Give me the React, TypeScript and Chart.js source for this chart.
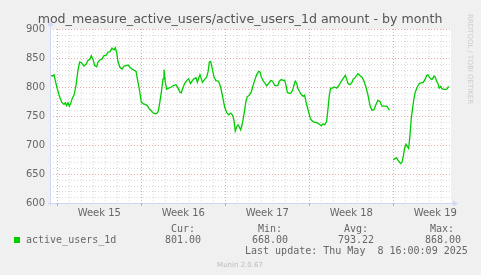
import React, { useEffect, useRef } from "react";
import { Chart, registerables } from "chart.js";

Chart.register(...registerables);

const TITLE = "mod_measure_active_users/active_users_1d amount - by month";
const SERIES_LABEL = "active_users_1d";
const WEEK_LABELS = ["Week 15", "Week 16", "Week 17", "Week 18", "Week 19"];
const WEEK_STARTS = [0, 7, 14, 21, 28];
const Y_MIN = 600;
const Y_MAX = 900;
const Y_MINOR = 10;
const Y_MAJOR = 50;
const X_MIN = -0.61;
const X_MAX = 32.81;
const STAT_HEADERS = ["Cur:", "Min:", "Avg:", "Max:"];
const STAT_VALUES = ["801.00", "668.00", "793.22", "868.00"];
const LAST_UPDATE = "Last update: Thu May  8 16:00:09 2025";
const FOOTER = "Munin 2.0.67";
const WATERMARK = "RRDTOOL / TOBI OETIKER";

// days since start of week 15
const DAYS = [
  -0.56, -0.39, -0.28, -0.17, 0, 0.19, 0.39, 0.56, 0.67, 0.78,
  0.89, 1.0, 1.11, 1.22, 1.39, 1.56, 1.72, 1.86, 2.0, 2.22,
  2.42, 2.56, 2.72, 2.83, 2.97, 3.11, 3.28, 3.39, 3.56, 3.72,
  3.89, 4.08, 4.22, 4.39, 4.56, 4.72, 4.83, 4.94, 5.06, 5.22,
  5.39, 5.56, 5.72, 5.89, 6.06, 6.22, 6.39, 6.56, 6.67, 6.83,
  7.0, 7.17, 7.33, 7.5, 7.61, 7.78, 7.94, 8.11, 8.28, 8.39,
  8.5, 8.67, 8.81, 8.89, 9.0, 9.11, 9.28, 9.5, 9.72, 9.89,
  10.06, 10.22, 10.33, 10.44, 10.61, 10.78, 10.94, 11.11, 11.22, 11.39,
  11.56, 11.67, 11.78, 11.89, 12.0, 12.11, 12.28, 12.44, 12.56, 12.67,
  12.78, 12.89, 13.06, 13.22, 13.44, 13.61, 13.78, 13.94, 14.11, 14.28,
  14.44, 14.61, 14.72, 14.83, 14.94, 15.06, 15.17, 15.28, 15.39, 15.5,
  15.61, 15.72, 15.83, 16.0, 16.17, 16.28, 16.44, 16.61, 16.78, 16.89,
  17.0, 17.17, 17.33, 17.44, 17.61, 17.78, 17.94, 18.11, 18.28, 18.39,
  18.5, 18.67, 18.83, 18.94, 19.06, 19.17, 19.33, 19.44, 19.61, 19.72,
  19.83, 19.94, 20.06, 20.22, 20.33, 20.5, 20.61, 20.72, 20.83, 20.94,
  21.06, 21.17, 21.33, 21.5, 21.67, 21.78, 21.89, 22.0, 22.11, 22.28,
  22.44, 22.56, 22.67, 22.78, 22.94, 23.11, 23.28, 23.44, 23.56, 23.67,
  23.83, 24.0, 24.11, 24.22, 24.39, 24.56, 24.67, 24.78, 24.94, 25.06,
  25.22, 25.39, 25.56, 25.72, 25.89, 26.06, 26.22, 26.39, 26.56, 26.72,
  26.89, 27.06, 27.22, 27.39, 27.5, 27.67,
  27.83,
  28.0, 28.17, 28.28, 28.39, 28.5, 28.61, 28.72, 28.83, 28.94, 29.06,
  29.17, 29.28, 29.39, 29.5, 29.61, 29.72, 29.83, 30.0, 30.17, 30.33,
  30.5, 30.67, 30.78, 30.89, 31.0, 31.17, 31.28, 31.39, 31.5, 31.61,
  31.72, 31.83, 31.94, 32.06, 32.22, 32.39, 32.5, 32.61,
];

const ACTIVE_USERS: (number | null)[] = [
  820, 819, 821, 811, 797, 783, 773, 770, 773, 768,
  773, 767, 771, 779, 786, 803, 829, 843, 842, 836,
  840, 846, 848, 854, 848, 837, 835, 843, 847, 848,
  854, 855, 860, 861, 867, 864, 868, 860, 843, 834,
  831, 836, 837, 838, 834, 831, 829, 827, 814, 797,
  774, 771, 770, 768, 764, 760, 756, 754, 754, 757,
  768, 791, 814, 830, 808, 796, 798, 800, 803, 804,
  798, 791, 790, 797, 806, 811, 814, 806, 810, 814,
  816, 808, 815, 821, 814, 808, 813, 817, 826, 843,
  844, 834, 817, 811, 810, 800, 783, 766, 756, 752,
  755, 751, 743, 724, 731, 735, 731, 726, 734, 746,
  760, 775, 783, 786, 792, 800, 811, 821, 827, 826,
  817, 810, 806, 802, 806, 811, 810, 803, 802, 803,
  810, 813, 811, 812, 803, 791, 789, 789, 794, 803,
  810, 807, 797, 791, 787, 784, 786, 775, 766, 757,
  748, 743, 740, 739, 738, 737, 735, 733, 736, 735,
  740, 763, 786, 798, 798, 800, 798, 802, 806, 810,
  815, 820, 814, 806, 804, 808, 814, 815, 820, 823,
  820, 817, 810, 800, 786, 768, 760, 761, 770, 777,
  775, 767, 767, 767, 766, 760,
  null,
  674, 677, 678, 674, 671, 668, 670, 680, 694, 701,
  697, 694, 717, 746, 763, 780, 791, 800, 806, 807,
  808, 814, 820, 821, 817, 813, 814, 819, 817, 810,
  806, 798, 801, 797, 796, 796, 797, 801,
];

const LINE_COLOR = "#00CC00";
const BG = "#F0F0F0";
const FONT_COLOR = "#666666";
const AXIS_COLOR = "#CFD6F8";
const MINOR_GRID = "rgba(140,140,140,0.32)";
const MAJOR_GRID = "rgba(215,60,60,0.45)";

const muninPlugin = {
  id: "munin",
  beforeDraw(chart: any) {
    const { ctx, chartArea: a } = chart;
    ctx.save();
    ctx.fillStyle = BG;
    ctx.fillRect(0, 0, chart.width, chart.height);
    ctx.fillStyle = "#FFFFFF";
    ctx.fillRect(a.left, a.top, a.right - a.left, a.bottom - a.top);
    ctx.restore();
  },
  beforeDatasetsDraw(chart: any) {
    const { ctx, chartArea: a, scales } = chart;
    const xs = scales.x;
    const ys = scales.y;
    ctx.save();
    ctx.lineWidth = 1;
    ctx.setLineDash([1, 2]);
    const hline = (v: number, color: string) => {
      const y = Math.round(ys.getPixelForValue(v)) + 0.5;
      ctx.strokeStyle = color;
      ctx.beginPath();
      ctx.moveTo(a.left, y);
      ctx.lineTo(a.right, y);
      ctx.stroke();
    };
    const vline = (d: number, color: string) => {
      const x = Math.round(xs.getPixelForValue(d)) + 0.5;
      ctx.strokeStyle = color;
      ctx.beginPath();
      ctx.moveTo(x, a.top);
      ctx.lineTo(x, a.bottom);
      ctx.stroke();
    };
    for (let v = Y_MIN; v <= Y_MAX; v += Y_MINOR) {
      if (v % Y_MAJOR !== 0) hline(v, MINOR_GRID);
    }
    for (let d = Math.ceil(X_MIN); d <= X_MAX; d += 1) {
      if (!WEEK_STARTS.includes(d)) vline(d, MINOR_GRID);
    }
    for (let v = Y_MIN; v <= Y_MAX; v += Y_MAJOR) hline(v, MAJOR_GRID);
    WEEK_STARTS.forEach((d) => vline(d, MAJOR_GRID));
    ctx.restore();
  },
  afterDatasetsDraw(chart: any) {
    const { ctx, chartArea: a, scales } = chart;
    const xs = scales.x;
    ctx.save();
    // axes
    ctx.strokeStyle = AXIS_COLOR;
    ctx.fillStyle = AXIS_COLOR;
    ctx.lineWidth = 1;
    ctx.setLineDash([]);
    const bx = a.left + 0.5;
    const by = Math.round(a.bottom) + 0.5;
    ctx.beginPath();
    ctx.moveTo(bx, by + 2);
    ctx.lineTo(bx, a.top - 4);
    ctx.moveTo(a.left - 2, by);
    ctx.lineTo(a.right + 3, by);
    ctx.stroke();
    ctx.beginPath();
    ctx.moveTo(bx - 3, a.top - 3);
    ctx.lineTo(bx + 3, a.top - 3);
    ctx.lineTo(bx, a.top - 8);
    ctx.closePath();
    ctx.fill();
    ctx.beginPath();
    ctx.moveTo(a.right + 2, by - 3);
    ctx.lineTo(a.right + 2, by + 3);
    ctx.lineTo(a.right + 7, by);
    ctx.closePath();
    ctx.fill();
    // week ticks
    ctx.strokeStyle = MAJOR_GRID;
    WEEK_STARTS.forEach((d) => {
      const x = Math.round(xs.getPixelForValue(d)) + 0.5;
      ctx.beginPath();
      ctx.moveTo(x, a.bottom);
      ctx.lineTo(x, a.bottom + 3);
      ctx.stroke();
    });
    // week labels
    ctx.fillStyle = FONT_COLOR;
    ctx.font = "10px 'DejaVu Sans'";
    ctx.textAlign = "center";
    ctx.textBaseline = "alphabetic";
    WEEK_STARTS.forEach((d, i) => {
      ctx.fillText(WEEK_LABELS[i], xs.getPixelForValue(d + 3.5), 216);
    });
    // title
    ctx.font = "12.6px 'DejaVu Sans'";
    ctx.fillStyle = "#555555";
    ctx.fillText(TITLE, 240, 23);
    // footer
    ctx.font = "7px 'DejaVu Sans'";
    ctx.fillStyle = "#BBBBBB";
    ctx.fillText(FOOTER, 240, 266.5);
    // watermark
    ctx.save();
    ctx.translate(470, 14);
    ctx.rotate(Math.PI / 2);
    ctx.textAlign = "left";
    ctx.textBaseline = "middle";
    ctx.font = "7px 'DejaVu Sans'";
    ctx.fillStyle = "#CCCCCC";
    ctx.fillText(WATERMARK, 0, 0);
    ctx.restore();
    // legend
    ctx.fillStyle = LINE_COLOR;
    ctx.fillRect(14, 237, 6, 6);
    ctx.font = "10px 'DejaVu Sans Mono'";
    ctx.fillStyle = FONT_COLOR;
    ctx.textAlign = "left";
    ctx.fillText(SERIES_LABEL, 26, 242.5);
    const headerRight = [195, 282, 368, 454];
    const valueRight = [201, 288, 374, 461];
    ctx.textAlign = "right";
    STAT_HEADERS.forEach((h, i) => ctx.fillText(h, headerRight[i], 231.5));
    STAT_VALUES.forEach((v, i) => ctx.fillText(v, valueRight[i], 242.5));
    ctx.textAlign = "left";
    ctx.fillText(LAST_UPDATE, 245, 254);
    ctx.restore();
  },
};

export default function App() {
  const ref = useRef<HTMLCanvasElement | null>(null);
  useEffect(() => {
    document.body.style.margin = "0";
    const canvas = ref.current!;
    const points = DAYS.map((d, i) => ({ x: d, y: ACTIVE_USERS[i] }));
    const chart = new Chart(canvas, {
      type: "line",
      data: {
        datasets: [
          {
            label: SERIES_LABEL,
            data: points as any,
            borderColor: LINE_COLOR,
            borderWidth: 1.3,
            pointRadius: 0,
            tension: 0,
            spanGaps: false,
          },
        ],
      },
      options: {
        animation: false,
        responsive: false,
        devicePixelRatio: 1,
        layout: { padding: { left: 0, right: 30, top: 29, bottom: 0 } },
        plugins: {
          legend: { display: false },
          title: { display: false },
          tooltip: { enabled: false },
        },
        scales: {
          x: {
            type: "linear",
            min: X_MIN,
            max: X_MAX,
            grid: { display: false, drawTicks: false },
            border: { display: false },
            ticks: { display: false },
            afterFit: (s: any) => {
              s.height = 72;
            },
          },
          y: {
            type: "linear",
            min: Y_MIN,
            max: Y_MAX,
            grid: { display: false, drawTicks: false },
            border: { display: false },
            ticks: {
              stepSize: Y_MAJOR,
              color: FONT_COLOR,
              font: { family: "'DejaVu Sans'", size: 10 },
              padding: 5,
              autoSkip: false,
            },
            afterFit: (s: any) => {
              s.width = 50;
            },
          },
        },
      },
      plugins: [muninPlugin],
    });
    return () => chart.destroy();
  }, []);
  return (
    <div style={{ position: "absolute", left: 0, top: 0, width: 481, height: 275, background: BG }}>
      <canvas ref={ref} width={481} height={275} style={{ display: "block", width: 481, height: 275 }} />
    </div>
  );
}
